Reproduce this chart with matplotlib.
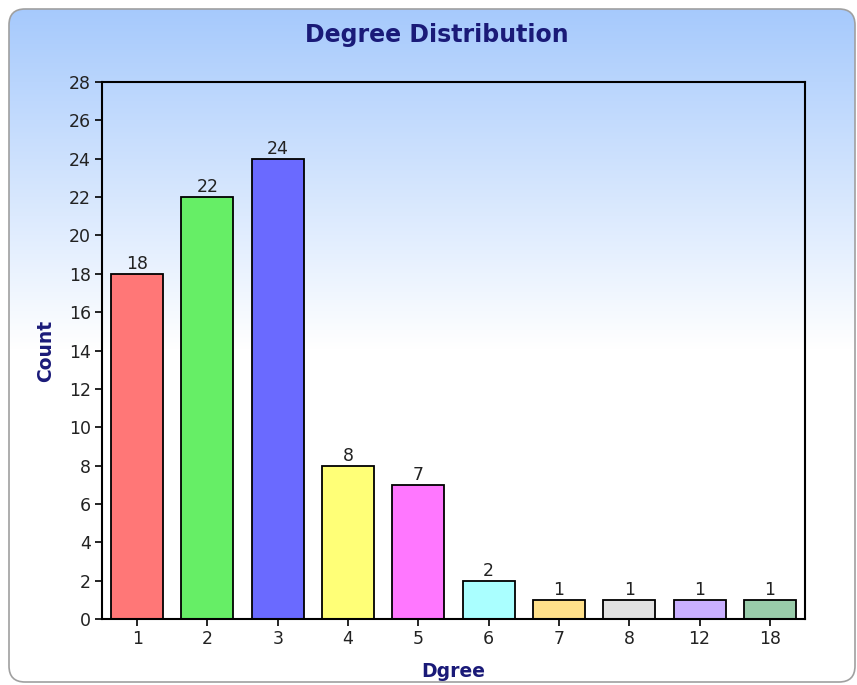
import numpy as np
import matplotlib
matplotlib.use('Agg')
import matplotlib.pyplot as plt
from matplotlib.patches import FancyBboxPatch

# data
degrees = ['1', '2', '3', '4', '5', '6', '7', '8', '12', '18']
counts = [18, 22, 24, 8, 7, 2, 1, 1, 1, 1]
bar_colors = ['#ff7777', '#66ee66', '#6a6aff', '#ffff77', '#ff77ff',
              '#aaffff', '#ffe08a', '#e2e2e2', '#c9b0ff', '#99ccaa']
yticks = list(range(0, 29, 2))

W, H = 857, 685
fig = plt.figure(figsize=(W / 100, H / 100), dpi=100)

# background panel with gradient
bg = fig.add_axes([0, 0, 1, 1])
bg.set_xlim(0, W)
bg.set_ylim(H, 0)
bg.axis('off')
grad = np.linspace(0, 1, 256)
top = np.array([0.65, 0.79, 0.99])
cols = top[None, :] + (1 - top[None, :]) * grad[:, None]
img = bg.imshow(cols[:, None, :], extent=[8, W, 350, 8], aspect='auto')
panel = FancyBboxPatch((9, 9), W - 11, H - 12, boxstyle='round,pad=0,rounding_size=16',
                       fc='none', ec='#a0a0a0', lw=1.2)
bg.add_patch(panel)
img.set_clip_path(panel)

ax = fig.add_axes([102 / W, 1 - 619 / H, (805 - 102) / W, (619 - 82) / H])
ax.set_facecolor('none')
x = np.arange(1, len(degrees) + 1)
bars = ax.bar(x, counts, width=0.74, color=bar_colors, edgecolor='black', linewidth=1.3)
for xi, c in zip(x, counts):
    ax.text(xi, c + 0.05, str(c), ha='center', va='bottom', fontsize=12.5, color='#222222')

ax.set_xlim(0.5, 10.5)
ax.set_ylim(0, 28)
ax.set_xticks(x)
ax.set_xticklabels(degrees)
ax.set_yticks(yticks)
ax.tick_params(direction='out', length=5, width=1.2, labelsize=12.5, labelcolor='#222222', pad=3)
for s in ax.spines.values():
    s.set_linewidth(1.5)

navy = '#1a1a78'
ax.set_xlabel('Dgree', fontsize=13.5, fontweight='bold', color=navy, labelpad=10)
ax.set_ylabel('Count', fontsize=13.5, fontweight='bold', color=navy, labelpad=10)
fig.text(437 / W, 1 - 35 / H, 'Degree Distribution', ha='center', va='center',
         fontsize=17, fontweight='bold', color=navy)

fig.savefig('out.png', dpi=100)
